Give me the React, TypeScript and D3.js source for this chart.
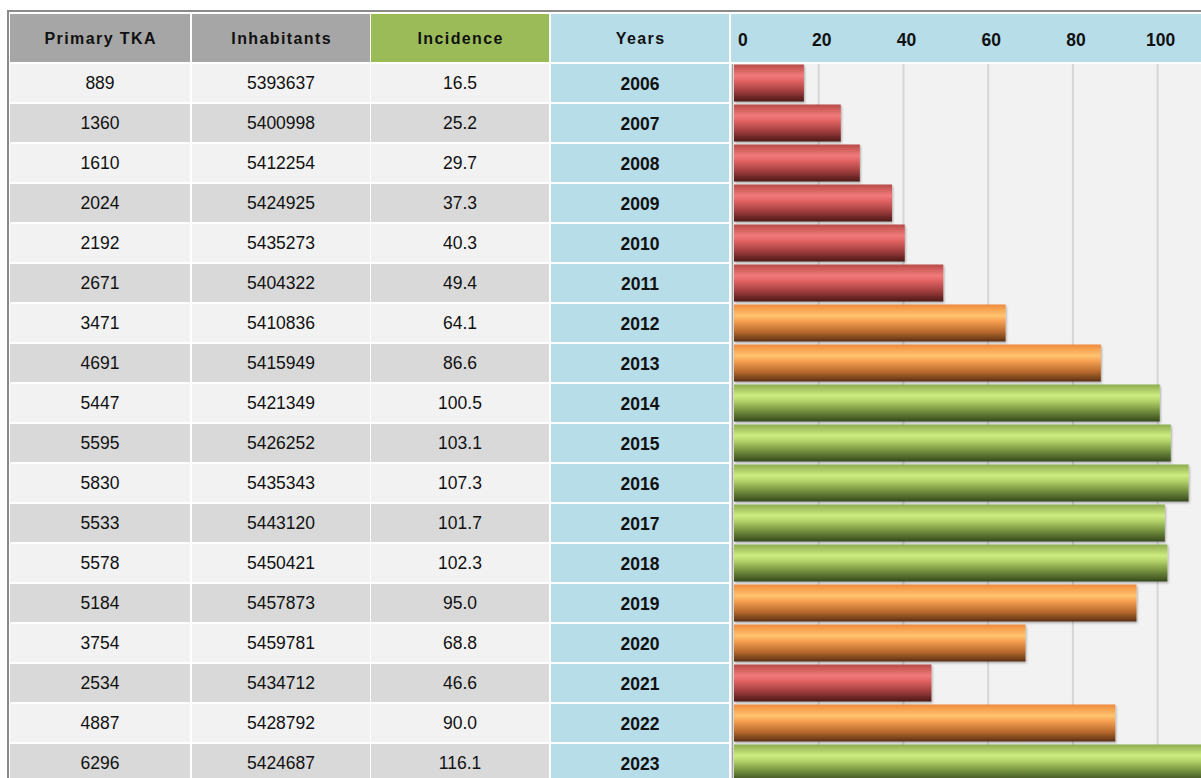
import React from 'react';
import * as d3 from 'd3';

// table data
const years = [2006, 2007, 2008, 2009, 2010, 2011, 2012, 2013, 2014, 2015, 2016, 2017, 2018, 2019, 2020, 2021, 2022, 2023];
const primaryTka = [889, 1360, 1610, 2024, 2192, 2671, 3471, 4691, 5447, 5595, 5830, 5533, 5578, 5184, 3754, 2534, 4887, 6296];
const inhabitants = [5393637, 5400998, 5412254, 5424925, 5435273, 5404322, 5410836, 5415949, 5421349, 5426252, 5435343, 5443120, 5450421, 5457873, 5459781, 5434712, 5428792, 5424687];
const incidence = [16.5, 25.2, 29.7, 37.3, 40.3, 49.4, 64.1, 86.6, 100.5, 103.1, 107.3, 101.7, 102.3, 95.0, 68.8, 46.6, 90.0, 116.1];
const headers = ['Primary TKA', 'Inhabitants', 'Incidence', 'Years'];
const xTicks = [0, 20, 40, 60, 80, 100];

const W = 1201;
const H = 778;

const colStart = [10, 192, 371, 551, 731];
const colEnd = [190, 370, 549, 729, 1201];
const headerFill = ['#a6a6a6', '#a6a6a6', '#9bbb59', '#b7dde8', '#b7dde8'];

const gradients = {
  red: ['#b84a48', '#f27a7a', '#e06262', '#993a3a', '#4a1919'],
  orange: ['#ef8a3a', '#ffc46f', '#f7a052', '#b4672b', '#5a3012'],
  green: ['#8dad50', '#cdec80', '#b2d268', '#6b8739', '#38481d'],
};

const App = () => {
  const y = d3.scaleBand<number>()
    .domain(years)
    .range([63, 783])
    .paddingInner(0.05)
    .paddingOuter(0.025);

  const x = d3.scaleLinear().domain([0, 110]).range([734, 1200]);

  const colorOf = d3.scaleThreshold<number, string>()
    .domain([50, 100])
    .range(['red', 'orange', 'green']);

  const cells = (i: number) => [
    String(primaryTka[i]),
    String(inhabitants[i]),
    incidence[i].toFixed(1),
  ];

  return (
    <svg width={W} height={H} style={{ position: 'absolute', left: 0, top: 0, background: '#fff' }}
      fontFamily="'Liberation Sans', Arial, sans-serif">
      <defs>
        {Object.entries(gradients).map(([k, c]) => (
          <linearGradient key={k} id={'bar-' + k} x1="0" y1="0" x2="0" y2="1">
            <stop offset="0%" stopColor={c[0]} />
            <stop offset="30%" stopColor={c[1]} />
            <stop offset="45%" stopColor={c[2]} />
            <stop offset="75%" stopColor={c[3]} />
            <stop offset="100%" stopColor={c[4]} />
          </linearGradient>
        ))}
        <filter id="shadow" x="-5%" y="-20%" width="110%" height="150%">
          <feDropShadow dx="1" dy="1.5" stdDeviation="1" floodColor="#000" floodOpacity="0.3" />
        </filter>
        <clipPath id="plot-clip">
          <rect x={731} y={62} width={W - 731} height={H - 62} />
        </clipPath>
      </defs>

      {/* outer frame */}
      <line x1={8} x2={W} y1={11} y2={11} stroke="#8a8a8a" strokeWidth={2} />
      <line x1={8} x2={8} y1={10} y2={H} stroke="#8a8a8a" strokeWidth={2} />

      {/* header row */}
      {headerFill.map((f, c) => (
        <rect key={'h' + c} x={colStart[c]} y={14} width={colEnd[c] - colStart[c]} height={48} fill={f} />
      ))}
      {headers.map((h, c) => (
        <text key={'ht' + c} x={(colStart[c] + colEnd[c]) / 2 + 0.7} y={44} textAnchor="middle"
          fontSize={16} fontWeight="bold" letterSpacing={1.4} fill="#111">{h}</text>
      ))}
      {xTicks.map(t => (
        <text key={'xt' + t} x={t === 0 ? x(t) + 4 : x(t) + 3} y={46}
          textAnchor={t === 0 ? 'start' : 'middle'} fontSize={17.5} fontWeight="bold" fill="#111">{t}</text>
      ))}

      {/* table rows */}
      {years.map((yr, i) => {
        const top = y(yr) as number;
        const bh = y.bandwidth();
        const fill = i % 2 === 0 ? '#f2f2f2' : '#d9d9d9';
        return (
          <g key={yr}>
            {cells(i).map((txt, c) => (
              <g key={c}>
                <rect x={colStart[c]} y={top} width={colEnd[c] - colStart[c]} height={bh} fill={fill} />
                <text x={(colStart[c] + colEnd[c]) / 2} y={top + 25} textAnchor="middle"
                  fontSize={17.5} fill="#111">{txt}</text>
              </g>
            ))}
            <rect x={colStart[3]} y={top} width={colEnd[3] - colStart[3]} height={bh} fill="#b7dde8" />
            <text x={(colStart[3] + colEnd[3]) / 2} y={top + 26} textAnchor="middle"
              fontSize={17.5} fontWeight="bold" fill="#111">{yr}</text>
          </g>
        );
      })}

      {/* bar chart */}
      <g clipPath="url(#plot-clip)">
        <rect x={731} y={64} width={W - 731} height={H - 64} fill="#f2f2f2" />
        {xTicks.filter(t => t > 0).map(t => (
          <line key={'g' + t} x1={x(t)} x2={x(t)} y1={64} y2={H} stroke="#d6d6d6" strokeWidth={2} />
        ))}
        <line x1={732.5} x2={732.5} y1={64} y2={H} stroke="#a0a0a0" strokeWidth={1.5} />
        {years.map((yr, i) => (
          <rect key={'b' + yr} x={x(0)} y={(y(yr) as number) + 0.5} width={x(incidence[i]) - x(0)}
            height={y.bandwidth() - 1} fill={`url(#bar-${colorOf(incidence[i])})`} filter="url(#shadow)" />
        ))}
      </g>
    </svg>
  );
};

export default App;
